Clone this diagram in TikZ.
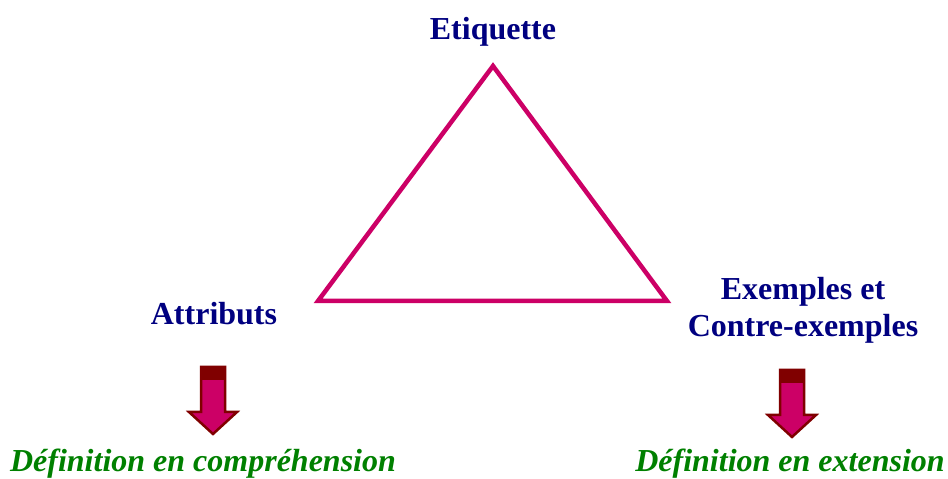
\documentclass[tikz,border=0pt]{standalone}
\usepackage{xcolor}
\usepackage{tikz}
\usepackage{fontspec}
\setmainfont{Liberation Serif}
\usetikzlibrary{positioning, calc}
\definecolor{labelnavy}{HTML}{000080}
\definecolor{defgreen}{HTML}{008000}
\definecolor{trianglepink}{HTML}{CC0066}
\definecolor{arrowdark}{HTML}{800000}
\tikzstyle{vertexlabel} = [text=labelnavy, font=\fontsize{32}{37}\selectfont\bfseries, align=center, inner sep=0pt, anchor=base]
\tikzstyle{deflabel} = [text=defgreen, font=\fontsize{32}{34}\selectfont\bfseries\itshape, inner sep=0pt, anchor=base]
\tikzstyle{triangle} = [line width=4.5pt, draw=trianglepink, line join=miter]
\tikzset{downblock/.pic={
    \filldraw[draw=arrowdark, fill=trianglepink, line width=2.5pt, line join=miter]
        (-12,0) -- (12,0) -- (12,-45) -- (24,-45) -- (0,-67) -- (-24,-45) -- (-12,-45) -- cycle;
    \fill[arrowdark] (-12,0) rectangle (12,-13);
}}

\begin{document}
\begin{tikzpicture}[x=1pt, y=1pt]
    \useasboundingbox (0,0) rectangle (948,479);

    \coordinate (top) at (493,413);
    \coordinate (left) at (318,178);
    \coordinate (right) at (667,178);
    \draw[triangle] (top) -- (left) -- (right) -- cycle;

    \node[vertexlabel] (etiq) at (493,439) {Etiquette};
    \node[vertexlabel] (attr) at (214,154) {Attributs};
    \node[vertexlabel] (exem) at (803,142) {Exemples et\\Contre-exemples};

    \pic at (213,112) {downblock};
    \pic at (792,109) {downblock};

    \node[deflabel] (comp) at (203,7.5) {Définition en compréhension};
    \node[deflabel] (ext) at (790,7.5) {Définition en extension};
\end{tikzpicture}
\end{document}
